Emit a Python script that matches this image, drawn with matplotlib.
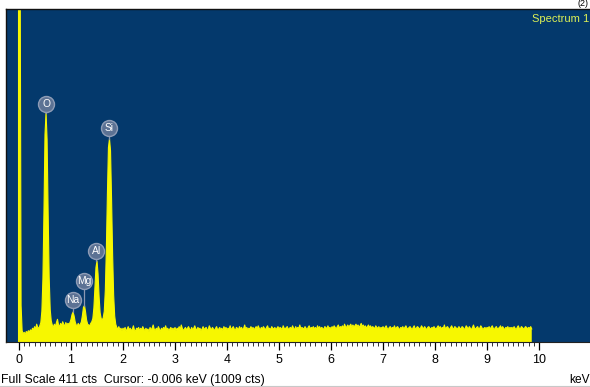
import numpy as np
import matplotlib
matplotlib.use("Agg")
import matplotlib.pyplot as plt
from matplotlib.ticker import FixedLocator, NullLocator

plt.rcParams['font.family'] = ['Liberation Sans', 'DejaVu Sans']

# EDS spectrum: counts per 0.02 keV channel, first channel at -0.02 keV
CHANNEL_WIDTH = 0.02
FIRST_CHANNEL = -0.02
counts = [
    450, 900, 520, 45, 14, 10, 12, 9, 13, 11, 14, 12, 15, 13, 17, 15, 19, 16, 22, 18, 17, 20, 24, 38, 78,
    160, 256, 283, 250, 160, 80, 40, 26, 21, 18, 22, 19, 24, 28, 21, 19, 23, 20, 25, 22, 19, 24, 21, 23, 22,
    24, 28, 34, 37, 32, 25, 21, 20, 23, 20, 22, 25, 33, 43, 45, 37, 27, 22, 21, 20, 23, 25, 29, 42, 66,
    92, 100, 84, 56, 36, 29, 27, 30, 38, 64, 115, 182, 240, 251, 236, 176, 108, 58, 32, 22, 18, 16, 19, 15, 17,
    14, 17, 15, 18, 13, 16, 19, 15, 17, 14, 16, 20, 15, 13, 17, 16, 18, 14, 17, 15, 19, 16, 14, 17, 15,
    16, 13, 18, 15, 17, 21, 16, 14, 17, 15, 19, 16, 13, 17, 15, 18, 16, 20, 15, 17, 14, 16, 18, 15, 17,
    15, 18, 14, 17, 16, 19, 15, 21, 17, 14, 16, 18, 15, 17, 19, 16, 14, 18, 15, 17, 20, 16, 15, 18, 16,
    17, 14, 16, 19, 15, 17, 18, 14, 16, 20, 17, 15, 18, 16, 14, 17, 19, 15, 16, 18, 15, 17, 14, 19, 16,
    18, 15, 17, 16, 20, 15, 17, 19, 16, 14, 18, 17, 15, 19, 16, 18, 15, 17, 21, 16, 18, 15, 17, 16, 19,
    16, 18, 15, 17, 19, 16, 20, 17, 15, 18, 16, 19, 17, 15, 18, 20, 16, 17, 15, 19, 17, 16, 18, 15, 17,
    19, 16, 18, 17, 15, 20, 17, 16, 18, 19, 15, 17, 18, 16, 20, 17, 15, 19, 16, 18, 17, 21, 16, 18, 17,
    16, 19, 17, 15, 18, 20, 16, 18, 17, 19, 16, 18, 15, 20, 17, 19, 16, 18, 17, 15, 19, 18, 16, 20, 17,
    18, 16, 19, 17, 20, 18, 16, 19, 21, 17, 19, 18, 20, 17, 22, 19, 18, 21, 19, 20, 22, 18, 21, 19, 20,
    22, 19, 21, 18, 20, 23, 19, 21, 18, 20, 17, 19, 21, 18, 20, 17, 19, 18, 16, 20, 18, 17, 19, 16, 18,
    17, 19, 16, 18, 20, 17, 15, 18, 19, 16, 18, 17, 20, 16, 18, 19, 17, 15, 18, 17, 19, 16, 18, 20, 17,
    16, 18, 19, 17, 15, 18, 20, 16, 17, 19, 18, 16, 17, 20, 18, 16, 19, 17, 15, 18, 19, 17, 16, 18, 17,
    19, 17, 16, 18, 20, 17, 19, 16, 18, 17, 21, 16, 18, 19, 17, 15, 18, 20, 17, 16, 19, 18, 16, 17, 19,
    17, 16, 19, 18, 15, 17, 20, 18, 16, 19, 17, 15, 18, 21, 17, 16, 18, 19, 16, 17, 20, 18, 15, 17, 18,
    16, 18, 17, 19, 16, 18, 20, 17, 15, 18, 19, 16, 17, 18, 20, 16, 19, 17, 15, 18, 17, 19, 16, 18, 17,
    18, 16, 19, 17, 15, 18, 20, 17, 16, 19, 18, 16, 17, 19, 18, 16, 18, 17, 19, 16,
]

# Identified elements and their line energies (keV)
elements = ["O", "Na", "Mg", "Al", "Si"]
element_kev = [0.525, 1.041, 1.254, 1.487, 1.740]
label_lift_px = [9, 12, 25, 10, 11]

full_scale = 411
tick_values = list(range(0, 11))
tick_labels = [str(v) for v in tick_values]
footer_text = "Full Scale 411 cts  Cursor: -0.006 keV (1009 cts)"
spectrum_name = "Spectrum 1"
panel_tag = "(2)"

W, H = 590, 387
fig = plt.figure(figsize=(W / 100, H / 100), dpi=100)
fig.patch.set_facecolor("white")

ax_l, ax_r, ax_t, ax_b = 6, 590, 9, 342
ax = fig.add_axes([ax_l / W, 1 - ax_b / H, (ax_r - ax_l) / W, (ax_b - ax_t) / H])
ax.set_facecolor("#04396c")

energy = FIRST_CHANNEL + CHANNEL_WIDTH * np.arange(len(counts))
cts = np.asarray(counts, dtype=float)
yellow = "#f7f700"
ax.fill_between(energy, 0, cts, color=yellow, lw=0, zorder=2)
ax.plot(energy, cts, color=yellow, lw=0.8, zorder=2)

ax.set_xlim(-0.25, 10.98)
ax.set_ylim(0, full_scale)

# element markers: grey disc with a short stem down to the peak top
px_to_cts = full_scale / (ax_b - ax_t)
for name, kev, lift in zip(elements, element_kev, label_lift_px):
    near = np.abs(energy - kev) <= 0.05
    top = cts[near].max()
    ylab = top + lift * px_to_cts
    ax.plot([kev, kev], [top, ylab], color="#8a98b2", lw=0.9, zorder=3)
    ax.plot(kev, ylab, marker="o", ms=11.5, mfc="#5c7294", mec="#8e9cb6",
            mew=1.0, zorder=4)
    ax.text(kev, ylab, name, ha="center", va="center", color="white",
            fontsize=7.4, zorder=5)

ax.text(0.999, 0.985, spectrum_name, transform=ax.transAxes, ha="right",
        va="top", color="#dcef55", fontsize=8.0)

# energy ruler along the bottom
ax.yaxis.set_major_locator(NullLocator())
ax.xaxis.set_major_locator(FixedLocator(tick_values))
ax.xaxis.set_minor_locator(FixedLocator(np.round(np.arange(0, 10.001, 0.1), 2)))
ax.set_xticklabels(tick_labels)
ax.tick_params(axis="x", which="major", direction="out", length=5.5,
               width=0.9, color="black", pad=3, labelsize=9)
ax.tick_params(axis="x", which="minor", direction="out", length=2.6,
               width=0.7, color="#333333")
for side in ["top", "left"]:
    ax.spines[side].set_color("#111111")
    ax.spines[side].set_linewidth(1.0)
ax.spines["right"].set_visible(False)
ax.spines["bottom"].set_color("#222222")
ax.spines["bottom"].set_linewidth(0.8)

fig.text(1 / W, 1 - 383 / H, footer_text, ha="left", va="baseline",
         fontsize=8.8, color="black")
fig.text(569 / W, 1 - 383 / H, "keV", ha="left", va="baseline",
         fontsize=8.6, color="black")
fig.text(589 / W, 1 - 8.5 / H, panel_tag, ha="right", va="bottom",
         fontsize=6.5, color="black")
fig.add_artist(plt.Line2D([0, 1], [1 - 386 / H, 1 - 386 / H],
                          transform=fig.transFigure, color="#c8c8c8", lw=0.8))

fig.savefig("out.png", dpi=100, facecolor="white")
